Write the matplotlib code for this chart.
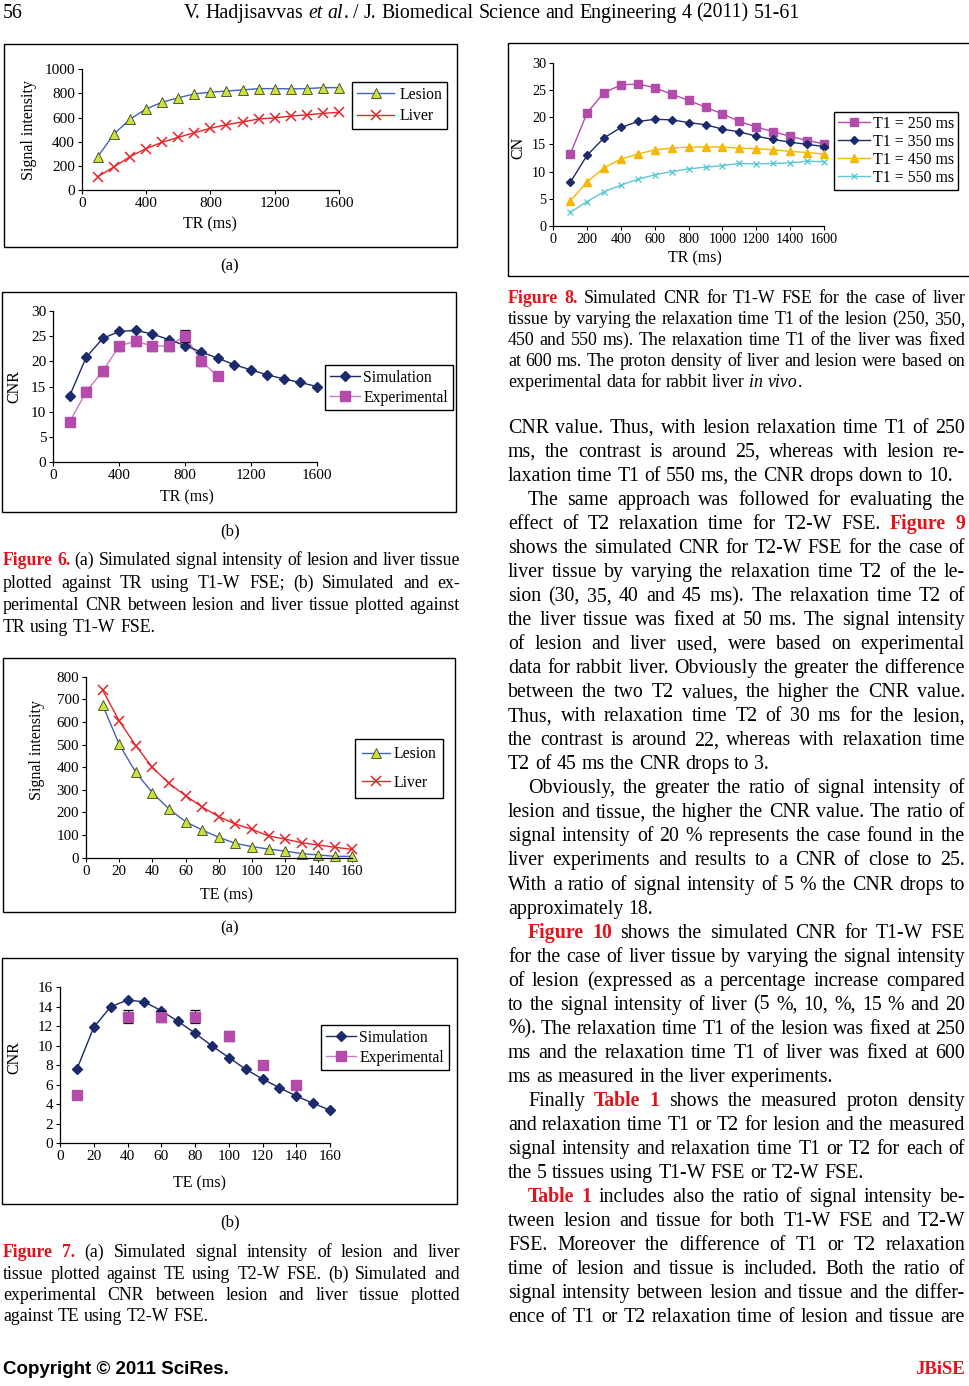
import re
import matplotlib
matplotlib.use('Agg')
import matplotlib.pyplot as plt
from matplotlib.lines import Line2D
from matplotlib.patches import Rectangle
from matplotlib.font_manager import FontProperties

W, H = 970, 1386
plt.rcParams['font.family'] = ['Liberation Serif', 'DejaVu Serif']

# ---------------- data ----------------
tr = [100, 200, 300, 400, 500, 600, 700, 800, 900, 1000, 1100, 1200, 1300, 1400, 1500, 1600]
te = [10, 20, 30, 40, 50, 60, 70, 80, 90, 100, 110, 120, 130, 140, 150, 160]

# Figure 6 (a): signal intensity vs TR, T1-W FSE
f6a_lesion = [276, 463, 586, 671, 727, 764, 796, 810, 820, 829, 840, 840, 838, 840, 848, 848]
f6a_liver = [110, 191, 276, 343, 395, 436, 475, 511, 541, 564, 588, 597, 613, 622, 635, 644]

# Figure 6 (b): CNR vs TR
f6b_sim = [13.2, 20.8, 24.5, 25.9, 26.1, 25.4, 24.3, 23.1, 21.8, 20.6, 19.3, 18.3, 17.3, 16.5, 15.8, 15.0]
f6b_exp_tr = [100, 200, 300, 400, 500, 600, 700, 800, 900, 1000]
f6b_exp = [8, 14, 18, 23, 24, 23, 23, 25, 20, 17]
f6b_exp_err = [0.3, 0.9, 0.9, 0.9, 0.9, 0.9, 0.9, 1.2, 0.9, 0.8]

# Figure 7 (a): signal intensity vs TE, T2-W FSE
f7a_lesion = [675, 501, 377, 287, 215, 159, 122, 90, 63, 49, 38, 29, 18, 12, 6, 6]
f7a_liver = [741, 605, 495, 399, 328, 274, 224, 181, 149, 125, 96, 82, 66, 56, 46, 37]

# Figure 7 (b): CNR vs TE
f7b_sim = [7.6, 11.9, 14.0, 14.7, 14.5, 13.6, 12.5, 11.3, 10.0, 8.8, 7.6, 6.6, 5.7, 4.85, 4.1, 3.4]
f7b_exp_te = [10, 40, 60, 80, 100, 120, 140]
f7b_exp = [5, 13, 13, 13, 11, 8, 6]
f7b_exp_err = [0.1, 0.65, 0.6, 0.65, 0.5, 0.3, 0.2]

# Figure 8: CNR vs TR for four lesion T1 values
f8_labels = ['T1 = 250 ms', 'T1 = 350 ms', 'T1 = 450 ms', 'T1 = 550 ms']
f8_t1_250 = [13.2, 20.8, 24.5, 25.9, 26.1, 25.4, 24.2, 23.1, 21.8, 20.6, 19.2, 18.2, 17.3, 16.5, 15.7, 15.1]
f8_t1_350 = [8.0, 13.0, 16.2, 18.1, 19.2, 19.6, 19.5, 19.0, 18.6, 17.8, 17.3, 16.5, 15.9, 15.4, 15.0, 14.6]
f8_t1_450 = [4.6, 8.1, 10.7, 12.3, 13.2, 14.0, 14.3, 14.5, 14.5, 14.5, 14.3, 14.2, 14.0, 13.7, 13.5, 13.2]
f8_t1_550 = [2.5, 4.5, 6.3, 7.5, 8.6, 9.4, 10.0, 10.5, 10.8, 11.1, 11.5, 11.4, 11.5, 11.6, 11.9, 11.8]

# ---------------- page text ----------------
header = "V. Hadjisavvas [et al]. / J. Biomedical Science and Engineering 4 (2011) 51-61"

cap6 = ["{Figure 6.} (a) Simulated signal intensity of lesion and liver tissue",
        "plotted against TR using T1-W FSE; (b) Simulated and ex-",
        "perimental CNR between lesion and liver tissue plotted against",
        "TR using T1-W FSE."]
cap7 = ["{Figure 7.} (a) Simulated signal intensity of lesion and liver",
        "tissue plotted against TE using T2-W FSE. (b) Simulated and",
        "experimental CNR between lesion and liver tissue plotted",
        "against TE using T2-W FSE."]
cap8 = ["{Figure 8.} Simulated CNR for T1-W FSE for the case of liver",
        "tissue by varying the relaxation time T1 of the lesion (250, 350,",
        "450 and 550 ms). The relaxation time T1 of the liver was fixed",
        "at 600 ms. The proton density of liver and lesion were based on",
        "experimental data for rabbit liver [in vivo]."]

# paragraphs: (first line indented?, lines, last line justified?)
body = [
    (False, ["CNR value. Thus, with lesion relaxation time T1 of 250",
             "ms, the contrast is around 25, whereas with lesion re-",
             "laxation time T1 of 550 ms, the CNR drops down to 10."], False),
    (True, ["The same approach was followed for evaluating the",
            "effect of T2 relaxation time for T2-W FSE. {Figure 9}",
            "shows the simulated CNR for T2-W FSE for the case of",
            "liver tissue by varying the relaxation time T2 of the le-",
            "sion (30, 35, 40 and 45 ms). The relaxation time T2 of",
            "the liver tissue was fixed at 50 ms. The signal intensity",
            "of lesion and liver used, were based on experimental",
            "data for rabbit liver. Obviously the greater the difference",
            "between the two T2 values, the higher the CNR value.",
            "Thus, with relaxation time T2 of 30 ms for the lesion,",
            "the contrast is around 22, whereas with relaxation time",
            "T2 of 45 ms the CNR drops to 3."], False),
    (True, ["Obviously, the greater the ratio of signal intensity of",
            "lesion and tissue, the higher the CNR value. The ratio of",
            "signal intensity of 20 % represents the case found in the",
            "liver experiments and results to a CNR of close to 25.",
            "With a ratio of signal intensity of 5 % the CNR drops to",
            "approximately 18."], False),
    (True, ["{Figure 10} shows the simulated CNR for T1-W FSE",
            "for the case of liver tissue by varying the signal intensity",
            "of lesion (expressed as a percentage increase compared",
            "to the signal intensity of liver (5 %, 10, %, 15 % and 20",
            "%). The relaxation time T1 of the lesion was fixed at 250",
            "ms and the relaxation time T1 of liver was fixed at 600",
            "ms as measured in the liver experiments."], False),
    (True, ["Finally {Table 1} shows the measured proton density",
            "and relaxation time T1 or T2 for lesion and the measured",
            "signal intensity and relaxation time T1 or T2 for each of",
            "the 5 tissues using T1-W FSE or T2-W FSE."], False),
    (True, ["{Table 1} includes also the ratio of signal intensity be-",
            "tween lesion and tissue for both T1-W FSE and T2-W",
            "FSE. Moreover the difference of T1 or T2 relaxation",
            "time of lesion and tissue is included. Both the ratio of",
            "signal intensity between lesion and tissue and the differ-",
            "ence of T1 or T2 relaxation time of lesion and tissue are"], True),
]

RED = '#E3121B'
fig = plt.figure(figsize=(W / 100, H / 100), dpi=100)
renderer = fig.canvas.get_renderer()


def fx(x):
    return x / W


def fy(y):
    return 1 - y / H


def props(style):
    if style == 'r':
        return dict(weight='bold', color=RED)
    if style == 'i':
        return dict(style='italic', color='black')
    return dict(color='black')


def width(s, size, style):
    p = props(style)
    fp = FontProperties(family='Liberation Serif', size=size,
                        weight=p.get('weight', 'normal'), style=p.get('style', 'normal'))
    w, h, d = renderer.get_text_width_height_descent(s, fp, ismath=False)
    return w


def parse(line):
    pieces = []
    space = False
    for seg in re.split(r'(\{[^}]*\}|\[[^\]]*\])', line):
        if not seg:
            continue
        style = 'n'
        if seg[0] == '{':
            style, seg = 'r', seg[1:-1]
        elif seg[0] == '[':
            style, seg = 'i', seg[1:-1]
        for m in re.finditer(r'\S+|\s+', seg):
            tok = m.group()
            if tok.isspace():
                space = True
            else:
                pieces.append((tok, style, space))
                space = False
    return pieces


def draw_line(line, x0, x1, yc, size, justify=False, indent=0, align='left'):
    pieces = parse(line)
    ws = [width(t, size, s) for t, s, _ in pieces]
    nsp = sum(1 for p in pieces[1:] if p[2])
    sp = width('a a', size, 'n') - width('aa', size, 'n')
    if justify and nsp:
        gap = (x1 - x0 - indent - sum(ws)) / nsp
    else:
        gap = sp
    total = sum(ws) + gap * nsp
    x = x0 + indent
    if align == 'center':
        x = (x0 + x1) / 2 - total / 2
    elif align == 'right':
        x = x1 - total
    base = yc + 0.3 * size * 100 / 72
    for i, (tok, style, has_sp) in enumerate(pieces):
        if i > 0 and has_sp:
            x += gap
        fig.text(fx(x), fy(base), tok, fontsize=size, ha='left', va='baseline', **props(style))
        x += ws[i]


def draw_caption(lines, x0, x1, y0, step, size):
    for i, ln in enumerate(lines):
        draw_line(ln, x0, x1, y0 + i * step, size, justify=(i < len(lines) - 1))


def box(x0, y0, x1, y1):
    fig.add_artist(Rectangle((fx(x0), fy(y1)), (x1 - x0) / W, (y1 - y0) / H,
                             transform=fig.transFigure, fill=False, ec='black', lw=1.0))


def make_ax(ox, oy, rx, ty, xlim, ylim, xticks, yticks, tsize):
    ax = fig.add_axes([fx(ox), fy(oy), (rx - ox) / W, (oy - ty) / H])
    ax.set_xlim(*xlim)
    ax.set_ylim(*ylim)
    ax.set_xticks(xticks)
    ax.set_yticks(yticks)
    for s in ['top', 'right']:
        ax.spines[s].set_visible(False)
    for s in ['left', 'bottom']:
        ax.spines[s].set_linewidth(0.9)
    ax.tick_params(direction='out', length=3, width=0.8, labelsize=tsize, pad=2)
    ax.patch.set_alpha(0)
    return ax


def labels(ax, xl, xpos, yl, ypos, size):
    ax.set_xlabel(xl, fontsize=size)
    ax.set_ylabel(yl, fontsize=size)
    ax.xaxis.set_label_coords(fx(xpos[0]), fy(xpos[1]), transform=fig.transFigure)
    ax.yaxis.set_label_coords(fx(ypos[0]), fy(ypos[1]), transform=fig.transFigure)
    ax.xaxis.label.set_va('center')
    ax.yaxis.label.set_va('center')


def legend(ax, handles, names, x0, y0, size, spacing=0.3, pad=0.3, hl=2.0, tp=0.2):
    leg = ax.legend(handles, names, loc='upper left',
                    bbox_to_anchor=(fx(x0), fy(y0)),
                    bbox_transform=fig.transFigure, fontsize=size, frameon=True,
                    fancybox=False, framealpha=1, edgecolor='black', borderaxespad=0,
                    borderpad=pad, handlelength=hl, handletextpad=tp, labelspacing=spacing)
    leg.get_frame().set_linewidth(1.0)
    return leg


BLUE = '#3F63C8'
LIME = '#C9E23E'
REDL = '#E5252A'
NAVY = '#1B2A6B'
MAG = '#B24BAA'
MAGL = '#C77BC2'
ORNG = '#F6B700'
CYAN = '#5EC8D8'

# ---------------- Figure 6 (a) ----------------
box(4, 44, 457, 247)
ax = make_ax(81.7, 190, 339, 69.3, (0, 1600), (0, 1000), [0, 400, 800, 1200, 1600],
             range(0, 1001, 200), 11)
l1, = ax.plot(tr, f6a_lesion, color=BLUE, lw=1.0, marker='^', ms=7, mfc=LIME, mec='#404020',
              mew=0.6, clip_on=False)
l2, = ax.plot(tr, f6a_liver, color=REDL, lw=1.0, marker='x', ms=7, mew=1.1, clip_on=False)
labels(ax, 'TR (ms)', (210, 224), 'Signal intensity', (29, 130), 11.5)
legend(ax, [l1, l2], ['Lesion', 'Liver'], 352, 82, 11.3, spacing=0.35, hl=2.4, tp=0.3)

# ---------------- Figure 6 (b) ----------------
box(2, 292, 456, 512)
ax = make_ax(53.3, 462.3, 316.7, 310.7, (0, 1600), (0, 30), [0, 400, 800, 1200, 1600],
             range(0, 31, 5), 11)
s1, = ax.plot(tr, f6b_sim, color=NAVY, lw=1.0, marker='D', ms=5, mfc=NAVY, mec=NAVY,
              clip_on=False, zorder=3)
ax.plot(f6b_exp_tr, f6b_exp, color=MAGL, lw=1.0, zorder=2)
ax.errorbar(f6b_exp_tr, f6b_exp, yerr=f6b_exp_err, fmt='s', ms=7, mfc=MAG, mec=MAG,
            ecolor='black', elinewidth=0.9, capsize=3.5, capthick=0.9, zorder=4)
e1 = Line2D([], [], color=MAGL, lw=1.0, marker='s', ms=7, mfc=MAG, mec=MAG)
labels(ax, 'TR (ms)', (187, 497), 'CNR', (14, 387), 11.5)
legend(ax, [s1, e1], ['Simulation', 'Experimental'], 325, 365, 11.3, spacing=0.25,
       pad=0.3, hl=1.9, tp=0.25)

# ---------------- Figure 7 (a) ----------------
box(3, 658, 455, 912)
ax = make_ax(86, 857.7, 351.7, 676.7, (0, 160), (0, 800), range(0, 161, 20),
             range(0, 801, 100), 10.8)
l1, = ax.plot(te, f7a_lesion, color=BLUE, lw=1.0, marker='^', ms=7, mfc=LIME, mec='#404020',
              mew=0.6, clip_on=False)
l2, = ax.plot(te, f7a_liver, color=REDL, lw=1.0, marker='x', ms=7, mew=1.1, clip_on=False)
labels(ax, 'TE (ms)', (227, 895), 'Signal intensity', (37, 750), 11.5)
legend(ax, [l1, l2], ['Lesion', 'Liver'], 355, 739, 11.3, spacing=0.8, pad=0.45,
       hl=1.8, tp=0.2)

# ---------------- Figure 7 (b) ----------------
box(2, 958, 457, 1204)
ax = make_ax(60, 1143.3, 330, 987.3, (0, 160), (0, 16), range(0, 161, 20),
             range(0, 17, 2), 11)
s1, = ax.plot(te, f7b_sim, color=NAVY, lw=1.0, marker='D', ms=5, mfc=NAVY, mec=NAVY,
              clip_on=False, zorder=3)
ax.errorbar(f7b_exp_te, f7b_exp, yerr=f7b_exp_err, fmt='s', ms=7, mfc=MAG, mec=MAG,
            ecolor='black', elinewidth=0.9, capsize=3.5, capthick=0.9, zorder=4)
e1 = Line2D([], [], color=MAGL, lw=1.0, marker='s', ms=7, mfc=MAG, mec=MAG)
labels(ax, 'TE (ms)', (200, 1183), 'CNR', (14, 1058), 11.5)
legend(ax, [s1, e1], ['Simulation', 'Experimental'], 321, 1025, 11.3, spacing=0.25,
       pad=0.3, hl=1.9, tp=0.25)

# ---------------- Figure 8 ----------------
box(508, 43, 990, 276)
ax = make_ax(553.3, 226, 824, 62.7, (0, 1600), (0, 30), range(0, 1601, 200),
             range(0, 31, 5), 10.2)
h = []
h.append(ax.plot(tr, f8_t1_250, color=MAG, lw=1.0, marker='s', ms=5.5, clip_on=False)[0])
h.append(ax.plot(tr, f8_t1_350, color=NAVY, lw=1.0, marker='D', ms=4, clip_on=False)[0])
h.append(ax.plot(tr, f8_t1_450, color=ORNG, lw=1.0, marker='^', ms=5.5, clip_on=False)[0])
h.append(ax.plot(tr, f8_t1_550, color=CYAN, lw=1.0, marker='x', ms=5, mew=1.0, clip_on=False)[0])
labels(ax, 'TR (ms)', (695, 258), 'CN', (518, 148), 11.5)
legend(ax, h, f8_labels, 834, 112, 11.4, spacing=0.12, pad=0.25, hl=2.0, tp=0.2)

# ---------------- page text ----------------
fig.text(fx(3), fy(12 + 6), '56', fontsize=14.3, ha='left', va='baseline')
draw_line(header, 0, 984, 12, 14.3, align='center')

for lab, y in [('(a)', 266), ('(b)', 531), ('(a)', 928), ('(b)', 1222)]:
    fig.text(fx(230), fy(y + 4.5), lab, fontsize=12, ha='center', va='baseline')

draw_caption(cap6, 3, 460, 560, 22.3, 12.8)
draw_caption(cap7, 3, 460, 1252, 21.3, 12.8)
draw_caption(cap8, 508, 965, 298, 20.8, 12.9)

row = 0
for indent, lines, last_just in body:
    for i, ln in enumerate(lines):
        last = (i == len(lines) - 1)
        draw_line(ln, 508, 965, 427 + 24.03 * row, 14.3,
                  justify=(not last) or last_just, indent=20 if (indent and i == 0) else 0)
        row += 1

fig.text(fx(3), fy(1368 + 6), 'Copyright \u00a9 2011 SciRes.', fontsize=13.5, weight='bold',
         family=['Liberation Sans Narrow', 'Liberation Sans', 'DejaVu Sans'], ha='left', va='baseline')
fig.text(fx(965), fy(1368 + 6), 'JBiSE', fontsize=13.5, weight='bold', color=RED,
         ha='right', va='baseline')

fig.savefig('out.png', dpi=100)
